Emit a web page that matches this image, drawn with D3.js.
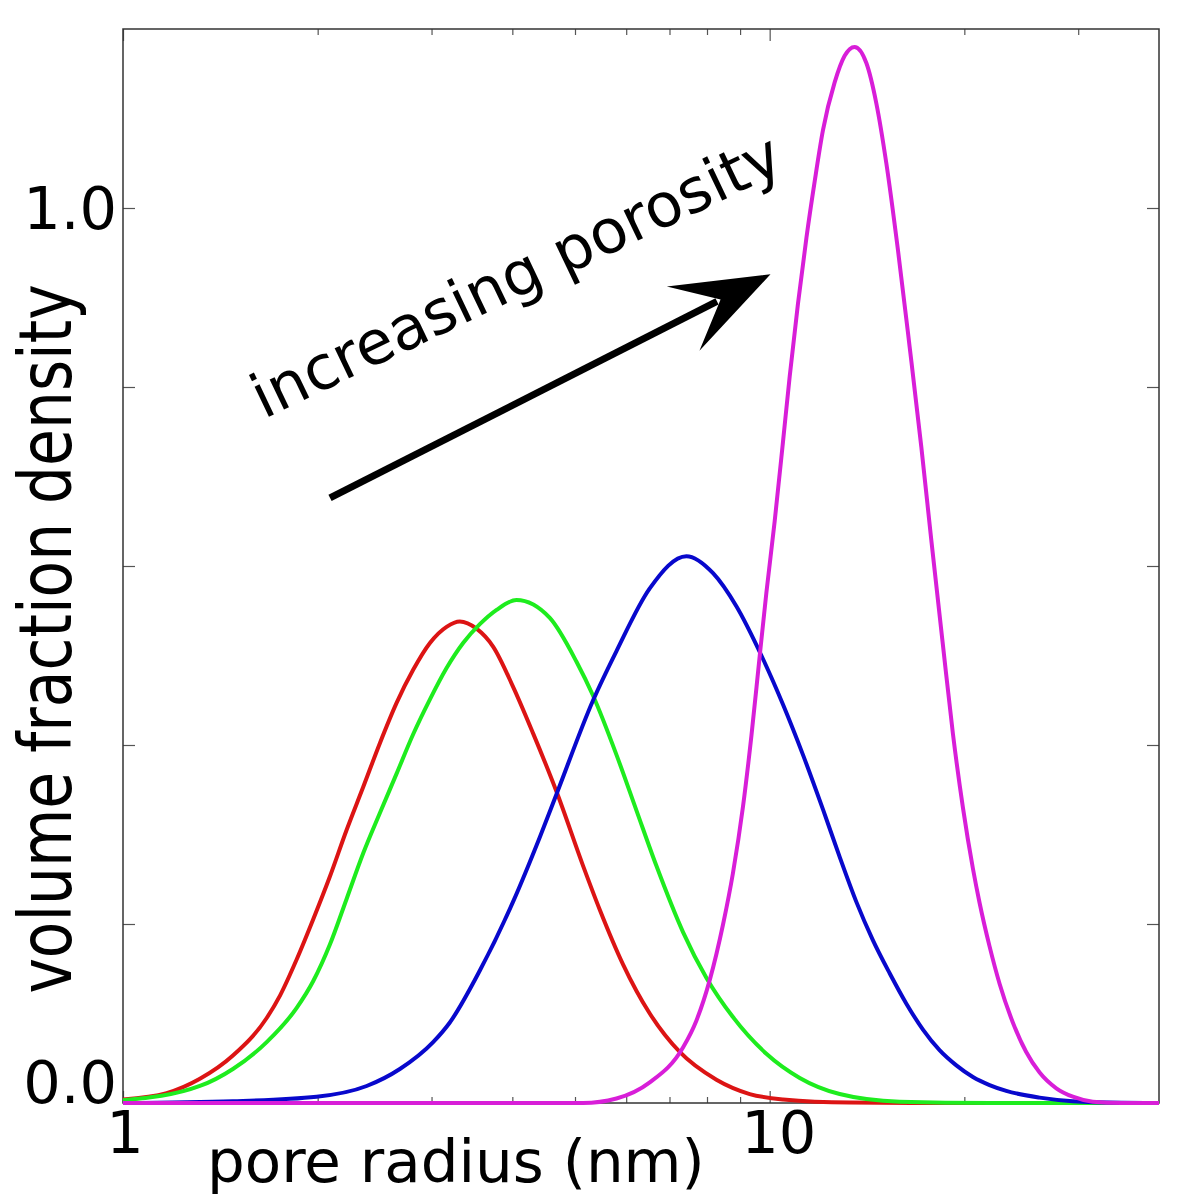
<!DOCTYPE html>
<html>
<head>
<meta charset="utf-8">
<script src="https://cdn.jsdelivr.net/npm/d3@7"></script>
<style>
  body { margin: 0; background: #fff; }
  svg { display: block; }
  text { font-family: "DejaVu Sans", sans-serif; fill: #000; }
</style>
</head>
<body>
<div id="chart"></div>
<script>
// pore radius (nm), volume fraction density
const red = [
  [1.000, 0.004], [1.168, 0.011], [1.315, 0.027], [1.479, 0.053], [1.668, 0.095],
  [1.749, 0.120], [1.855, 0.160], [1.968, 0.205], [2.089, 0.253], [2.217, 0.305],
  [2.352, 0.353], [2.496, 0.402], [2.649, 0.447], [2.810, 0.484], [2.983, 0.514],
  [3.165, 0.532], [3.318, 0.538], [3.521, 0.530], [3.735, 0.510], [4.011, 0.465],
  [4.307, 0.413], [4.681, 0.348], [5.146, 0.265], [5.461, 0.216], [5.932, 0.155],
  [6.525, 0.100], [7.260, 0.057], [8.273, 0.026], [9.314, 0.010], [10.49, 0.004],
  [13.29, 0.0005], [20, 0], [30, 0], [40, 0]
];
const green = [
  [1.000, 0.003], [1.315, 0.019], [1.479, 0.038], [1.668, 0.068], [1.855, 0.106],
  [1.968, 0.136], [2.089, 0.177], [2.217, 0.228], [2.352, 0.279], [2.496, 0.324],
  [2.649, 0.368], [2.810, 0.412], [2.983, 0.451], [3.165, 0.486], [3.357, 0.514],
  [3.563, 0.535], [3.782, 0.551], [4.060, 0.562], [4.571, 0.542], [5.027, 0.493],
  [5.333, 0.455], [5.796, 0.389], [6.222, 0.327], [6.681, 0.265], [7.345, 0.191],
  [7.981, 0.140], [8.775, 0.096], [9.883, 0.055], [11.13, 0.028], [12.83, 0.010],
  [15.88, 0.0015], [22, 0], [30, 0], [40, 0]
];
const blue = [
  [1.000, 0], [1.479, 0.002], [1.992, 0.007], [2.381, 0.019], [2.680, 0.038],
  [3.017, 0.068], [3.202, 0.090], [3.563, 0.148], [4.011, 0.225], [4.411, 0.297],
  [4.681, 0.345], [5.333, 0.450], [5.796, 0.505], [6.525, 0.575], [7.435, 0.611],
  [8.174, 0.592], [8.882, 0.555], [9.710, 0.500], [10.49, 0.445], [11.26, 0.389],
  [12.09, 0.328], [12.83, 0.275], [13.61, 0.225], [14.44, 0.182], [15.33, 0.145],
  [16.27, 0.111], [17.26, 0.082], [18.31, 0.059], [19.44, 0.042], [20.62, 0.029],
  [21.88, 0.020], [23.22, 0.0135], [26.15, 0.006], [29.43, 0.002], [35, 0.0003], [40, 0]
];
const magenta = [
  [1.000, 0], [2, 0], [3, 0], [4, 0], [5.146, 0], [5.796, 0.005], [6.525, 0.023],
  [7.345, 0.062], [7.703, 0.092], [8.076, 0.137], [8.473, 0.200], [8.775, 0.257],
  [9.093, 0.331], [9.370, 0.410], [9.650, 0.499], [9.883, 0.570], [10.18, 0.650],
  [10.49, 0.740], [10.74, 0.812], [11.06, 0.893], [11.40, 0.967], [11.74, 1.030],
  [12.09, 1.087], [12.60, 1.140], [13.06, 1.170], [13.53, 1.180], [14.11, 1.162],
  [14.62, 1.117], [15.15, 1.050], [15.79, 0.953], [16.46, 0.845], [17.16, 0.733],
  [17.78, 0.629], [18.53, 0.512], [19.20, 0.413], [19.90, 0.330], [20.62, 0.262],
  [21.11, 0.224], [21.88, 0.175], [22.68, 0.133], [23.77, 0.090], [24.93, 0.057],
  [26.15, 0.034], [27.75, 0.0164], [29.43, 0.007], [31.60, 0.0015], [35, 0], [40, 0]
];

const xMajor = [1, 10];
const xMinor = [2, 3, 4, 5, 6, 7, 8, 9, 20, 30];
const yTicks = [0, 0.2, 0.4, 0.6, 0.8, 1.0];
const yLabels = [0, 1.0];

// annotation: arrow tail / tip and text start, in data units
const arrowTail = [2.09, 0.676];
const arrowTip = [10.03, 0.926];
const noteStart = [1.65, 0.764];

const W = 1200, H = 1200;
const plotL = 123, plotR = 1159, plotT = 29, plotB = 1103;

const svg = d3.select("#chart").append("svg")
  .attr("width", W).attr("height", H);

const x = d3.scaleLog().domain([1, 40]).range([plotL, plotR]);
const y = d3.scaleLinear().domain([0, 1.2]).range([plotB, plotT]);

//*** ticks ****************************************************/
const tickStyle = (g) => {
  g.select(".domain").remove();
  g.selectAll(".tick line").attr("stroke", "#555").attr("stroke-width", 1.2);
  g.selectAll(".tick text").remove();
};

svg.append("g").attr("transform", `translate(0,${plotB})`)
  .call(d3.axisBottom(x).tickValues(xMinor).tickSize(-6)).call(tickStyle);
svg.append("g").attr("transform", `translate(0,${plotB})`)
  .call(d3.axisBottom(x).tickValues(xMajor).tickSize(-12)).call(tickStyle);
svg.append("g").attr("transform", `translate(0,${plotT})`)
  .call(d3.axisTop(x).tickValues(xMinor).tickSize(-6)).call(tickStyle);
svg.append("g").attr("transform", `translate(0,${plotT})`)
  .call(d3.axisTop(x).tickValues(xMajor).tickSize(-12)).call(tickStyle);
svg.append("g").attr("transform", `translate(${plotL},0)`)
  .call(d3.axisLeft(y).tickValues(yTicks).tickSize(-12)).call(tickStyle);
svg.append("g").attr("transform", `translate(${plotR},0)`)
  .call(d3.axisRight(y).tickValues(yTicks).tickSize(-12)).call(tickStyle);

// cadre
svg.append("rect")
  .attr("x", plotL).attr("y", plotT)
  .attr("width", plotR - plotL).attr("height", plotB - plotT)
  .attr("fill", "none").attr("stroke", "#333").attr("stroke-width", 1.5);

//*** curves ***************************************************/
// monotoneX uses the real x spacing, so uneven sampling gives no kinks
const line = d3.line()
  .x((d) => x(d[0]))
  .y((d) => y(d[1]))
  .curve(d3.curveMonotoneX);
const series = [
  { data: red, color: "#dc1414" },
  { data: green, color: "#1eec1e" },
  { data: blue, color: "#0808cc" },
  { data: magenta, color: "#d81ed8" }
];
series.forEach((s) => {
  svg.append("path")
    .datum(s.data)
    .attr("d", line)
    .attr("fill", "none")
    .attr("stroke", s.color)
    .attr("stroke-width", 4)
    .attr("stroke-linejoin", "round");
});

//*** tick labels *********************************************/
svg.selectAll(".xlab").data(xMajor).join("text")
  .attr("x", (d) => x(d) + (d === 10 ? 9 : 2))
  .attr("y", 1153)
  .attr("text-anchor", "middle")
  .attr("font-size", 59)
  .text((d) => d);

svg.selectAll(".ylab").data(yLabels).join("text")
  .attr("x", 117)
  .attr("y", (d) => (d === 0 ? plotB : y(d) + 21))
  .attr("text-anchor", "end")
  .attr("font-size", 59)
  .text((d) => d3.format(".1f")(d));

//*** axis titles *********************************************/
svg.append("text")
  .attr("x", 207).attr("y", 1182)
  .attr("font-size", 59.5)
  .text("pore radius (nm)");

svg.append("text")
  .attr("transform", "translate(71,639) rotate(-90) scale(0.82,1)")
  .attr("text-anchor", "middle")
  .attr("font-size", 73)
  .text("volume fraction density");

//*** annotation ***********************************************/
const t0 = [x(arrowTail[0]), y(arrowTail[1])];
const t1 = [x(arrowTip[0]), y(arrowTip[1])];
const ang = Math.atan2(t1[1] - t0[1], t1[0] - t0[0]);
const ux = Math.cos(ang), uy = Math.sin(ang);
const nx = -uy, ny = ux;
const pt = (a, b) => [t1[0] + ux * a + nx * b, t1[1] + uy * a + ny * b];

svg.append("line")
  .attr("x1", t0[0]).attr("y1", t0[1])
  .attr("x2", pt(-60, 0)[0]).attr("y2", pt(-60, 0)[1])
  .attr("stroke", "#000").attr("stroke-width", 7);

svg.append("path")
  .attr("d", "M" + [t1, pt(-98, -36), pt(-56, 0), pt(-98, 36)].join("L") + "Z")
  .attr("fill", "#000");

svg.append("text")
  .attr("transform", `translate(${x(noteStart[0])},${y(noteStart[1])}) rotate(-25.5)`)
  .attr("font-size", 61)
  .text("increasing porosity");
</script>
</body>
</html>
